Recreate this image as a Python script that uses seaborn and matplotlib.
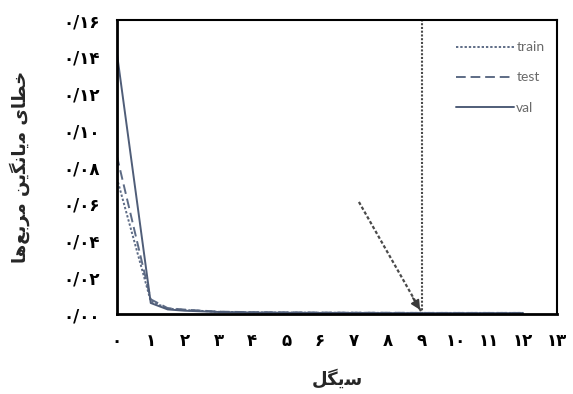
import matplotlib
matplotlib.use("Agg")
import matplotlib.pyplot as plt
import seaborn as sns
import pandas as pd

# Training history: mean squared error per cycle
cycles = [0, 1, 1.5, 2, 3, 4, 5, 6, 7, 8, 9, 10, 11, 12]
train_mse = [0.074, 0.007, 0.003, 0.0022, 0.0012, 0.0009, 0.0008, 0.0007, 0.0007, 0.0006, 0.0006, 0.0006, 0.0006, 0.0006]
test_mse = [0.086, 0.008, 0.0032, 0.0024, 0.0013, 0.0010, 0.0009, 0.0008, 0.0007, 0.0007, 0.0006, 0.0006, 0.0006, 0.0006]
val_mse = [0.142, 0.006, 0.0025, 0.0018, 0.0011, 0.0008, 0.0007, 0.0006, 0.0006, 0.0005, 0.0005, 0.0005, 0.0005, 0.0005]
series_names = ["train", "test", "val"]

best_cycle = 9
arrow_start = (7.15, 0.061)
arrow_end = (9, 0.001)

x_ticks = list(range(0, 14))
y_ticks = [0.00, 0.02, 0.04, 0.06, 0.08, 0.10, 0.12, 0.14, 0.16]

FA_DIGITS = "۰۱۲۳۴۵۶۷۸۹"


def fa_num(s):
    return "".join(FA_DIGITS[int(c)] if c.isdigit() else c for c in s)


def visual(glyphs):
    # glyphs are given in reading order as Arabic presentation forms
    return "".join(reversed(glyphs))


# خطای میانگین مربع‌ها
ylabel_text = visual([
    "\uFEA7", "\uFEC4", "\uFE8E", "\uFBFC", " ",
    "\uFEE3", "\uFBFE", "\uFE8E", "\uFEE7", "\uFB95", "\uFBFE", "\uFEE6", " ",
    "\uFEE3", "\uFEAE", "\uFE91", "\uFECA", "\uFEEB", "\uFE8E",
])
# سیگل
xlabel_text = visual(["\uFEB3", "\uFBFE", "\uFB95", "\uFEDE"])

df = pd.DataFrame({
    "cycle": cycles * 3,
    "mse": train_mse + test_mse + val_mse,
    "series": [series_names[0]] * len(cycles) + [series_names[1]] * len(cycles) + [series_names[2]] * len(cycles),
})

sns.set_theme(style="white")
plt.rcParams["font.family"] = ["DejaVu Sans"]

fig = plt.figure(figsize=(5.73, 3.94), dpi=100)
ax = fig.add_axes([0.204, 0.203, 0.768, 0.746])

line_color = "#4f5d78"
sns.lineplot(
    data=df, x="cycle", y="mse", hue="series", style="series",
    palette={"train": "#5d6b85", "test": "#5d6b85", "val": line_color},
    dashes={"train": (1.2, 1.0), "test": (5, 2.5), "val": ""},
    linewidth=1.4, ax=ax, legend=True,
)

# best cycle marker line and arrow
ax.axvline(best_cycle, color="#4a4a4a", linestyle=(0, (1.0, 0.8)), linewidth=1.5, zorder=1)
ax.plot([arrow_start[0], arrow_end[0]], [arrow_start[1], arrow_end[1]],
        color="#4a4a4a", linestyle=(0, (1.5, 1.0)), linewidth=1.6)
ax.annotate("", xy=arrow_end, xytext=(arrow_end[0] - 0.3, arrow_end[1] + 0.009),
            arrowprops=dict(arrowstyle="-|>", color="#3a3a3a", lw=1.2, mutation_scale=14))

ax.set_xlim(0, 13)
ax.set_ylim(0, 0.16)
ax.set_xticks(x_ticks)
ax.set_xticklabels([fa_num(str(t)) for t in x_ticks], fontweight="bold", fontsize=12)
ax.set_yticks(y_ticks)
ax.set_yticklabels([fa_num(f"{t:.2f}".replace(".", "/")) for t in y_ticks], fontweight="bold", fontsize=12)
ax.tick_params(axis="both", which="major", direction="out", length=4, width=0.8,
               color="#d5d9e0", labelcolor="black", pad=8)
ax.tick_params(axis="x", pad=9)

for side in ["left", "bottom"]:
    ax.spines[side].set_color("black")
    ax.spines[side].set_linewidth(2.0)
for side in ["top", "right"]:
    ax.spines[side].set_color("black")
    ax.spines[side].set_linewidth(1.5)

ax.set_xlabel(xlabel_text, fontsize=13, fontweight="bold", labelpad=14)
ax.set_ylabel(ylabel_text, fontsize=13, fontweight="bold", labelpad=24)

leg = ax.legend(loc="upper right", frameon=False, handlelength=4.2, handletextpad=0.15,
                labelspacing=1.3, bbox_to_anchor=(1.0, 0.97),
                prop={"family": "Lato", "size": 10})
for txt in leg.get_texts():
    txt.set_color("#6a6a6a")

fig.savefig("out.png", dpi=100, facecolor="white")
